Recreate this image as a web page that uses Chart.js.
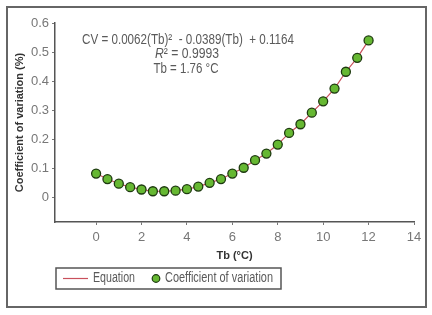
<!DOCTYPE html>
<html><head><meta charset="utf-8">
<script src="https://cdn.jsdelivr.net/npm/chart.js@4"></script>
<style>html,body{margin:0;padding:0;background:#fff}#wrap{width:432px;height:315px}</style>
</head><body><div id="wrap"><canvas id="c" width="432" height="315"></canvas></div>
<script>
const tbValues = [0,0.5,1,1.5,2,2.5,3,3.5,4,4.5,5,5.5,6,6.5,7,7.5,8,8.5,9,9.5,10,10.5,11,11.5,12];
const cvValues = [0.081,0.062,0.046,0.034,0.026,0.020,0.020,0.022,0.027,0.036,0.049,0.062,0.081,0.101,0.127,0.150,0.181,0.221,0.251,0.291,0.330,0.374,0.432,0.480,0.540];
const equationValues = [0.081,0.062,0.046,0.034,0.026,0.020,0.020,0.022,0.027,0.036,0.049,0.062,0.081,0.101,0.127,0.150,0.181,0.221,0.251,0.291,0.330,0.374,0.432,0.480,0.540];
const xTickValues = [0,2,4,6,8,10,12,14];
const yTickValues = [0,0.1,0.2,0.3,0.4,0.5,0.6];
const seriesNames = ['Equation','Coefficient of variation'];
const xTitle = 'Tb (\u00B0C)';
const yTitle = 'Coefficient of variation (%)';

const FONT = '"Liberation Sans",Arial,sans-serif';
const LINE_COLOR = '#c9505c';
const PT_FILL = '#66b832';
const PT_BORDER = '#1e3a10';
const TXT = '#5a5a5a';

// draw a run of [text, fontStyle] parts squeezed to a target width (narrow-font look)
function drawRun(ctx, parts, x, y, targetW, align) {
  let total = 0;
  parts.forEach(p => { ctx.font = p[1]; total += ctx.measureText(p[0]).width; });
  const s = targetW / total;
  let left = align === 'center' ? x - targetW / 2 : x;
  ctx.save();
  ctx.translate(left, y);
  ctx.scale(s, 1);
  let cx = 0;
  parts.forEach(p => { ctx.font = p[1]; ctx.fillText(p[0], cx, 0); cx += ctx.measureText(p[0]).width; });
  ctx.restore();
}

const overlay = {
  id: 'overlay',
  afterDraw(chart) {
    const ctx = chart.ctx;
    ctx.save();
    ctx.strokeStyle = '#666'; ctx.lineWidth = 2;
    ctx.strokeRect(7, 7, 419, 300);
    ctx.fillStyle = TXT;
    ctx.textBaseline = 'middle';
    ctx.textAlign = 'left';
    const F = '14px ' + FONT, FI = 'italic 14px ' + FONT;
    drawRun(ctx, [['CV = 0.0062(Tb)\u00B2  - 0.0389(Tb)  + 0.1164', F]], 188, 40, 212, 'center');
    drawRun(ctx, [['R', FI], ['\u00B2 = 0.9993', F]], 187, 54.5, 64, 'center');
    drawRun(ctx, [['Tb = 1.76 \u00B0C', F]], 186, 69, 65, 'center');
    // legend
    ctx.strokeStyle = '#555'; ctx.lineWidth = 1.5;
    ctx.strokeRect(56, 268, 225, 21);
    const ly = 278.5;
    ctx.strokeStyle = LINE_COLOR; ctx.lineWidth = 1.2;
    ctx.beginPath(); ctx.moveTo(63, ly); ctx.lineTo(88, ly); ctx.stroke();
    ctx.fillStyle = TXT;
    drawRun(ctx, [[seriesNames[0], F]], 93, ly, 42, 'left');
    ctx.beginPath(); ctx.arc(156, ly, 3.8, 0, Math.PI*2);
    ctx.fillStyle = PT_FILL; ctx.fill();
    ctx.strokeStyle = PT_BORDER; ctx.lineWidth = 1.2; ctx.stroke();
    ctx.fillStyle = TXT;
    drawRun(ctx, [[seriesNames[1], F]], 165, ly, 108, 'left');
    ctx.restore();
  }
};

new Chart(document.getElementById('c'), {
  type: 'scatter',
  data: {
    datasets: [
      {
        label: seriesNames[1],
        data: tbValues.map((x, i) => ({x, y: cvValues[i]})),
        pointRadius: 4.5,
        pointBorderWidth: 1.3,
        backgroundColor: PT_FILL,
        borderColor: PT_BORDER,
        showLine: false,
        order: 0
      },
      {
        label: seriesNames[0],
        data: tbValues.map((x, i) => ({x, y: equationValues[i]})),
        showLine: true,
        pointRadius: 0,
        borderColor: LINE_COLOR,
        borderWidth: 1.2,
        backgroundColor: LINE_COLOR,
        order: 1
      }
    ]
  },
  options: {
    responsive: false,
    animation: false,
    events: [],
    layout: { padding: { left: 10, right: 18, top: 23, bottom: 49 } },
    plugins: { legend: { display: false }, tooltip: { enabled: false } },
    scales: {
      x: {
        type: 'linear', min: -1.81, max: 14,
        afterBuildTicks(s) { s.ticks = xTickValues.map(v => ({ value: v })); },
        afterFit(s) { s.height = 44; },
        grid: { drawOnChartArea: false, drawTicks: true, tickLength: 3, color: '#777' },
        border: { color: '#555', width: 1.5 },
        ticks: { color: '#777', font: { family: FONT, size: 13 }, padding: 5, maxRotation: 0 },
        title: { display: true, text: xTitle, color: '#333', font: { family: FONT, size: 11, weight: 'bold' }, padding: { top: 2, bottom: 3 } }
      },
      y: {
        type: 'linear', min: -0.086, max: 0.6,
        afterBuildTicks(s) { s.ticks = yTickValues.map(v => ({ value: v })); },
        afterFit(s) { s.width = 45; },
        grid: { drawOnChartArea: false, drawTicks: true, tickLength: 3, color: '#777' },
        border: { color: '#555', width: 1.5 },
        ticks: { color: '#777', font: { family: FONT, size: 13 }, padding: 3,
                 callback: v => v === 0 ? '0' : v.toFixed(1) },
        title: { display: true, text: yTitle, color: '#333', font: { family: FONT, size: 11, weight: 'bold' }, padding: { top: 3, bottom: 2 } }
      }
    }
  },
  plugins: [overlay]
});
</script>
</body></html>
